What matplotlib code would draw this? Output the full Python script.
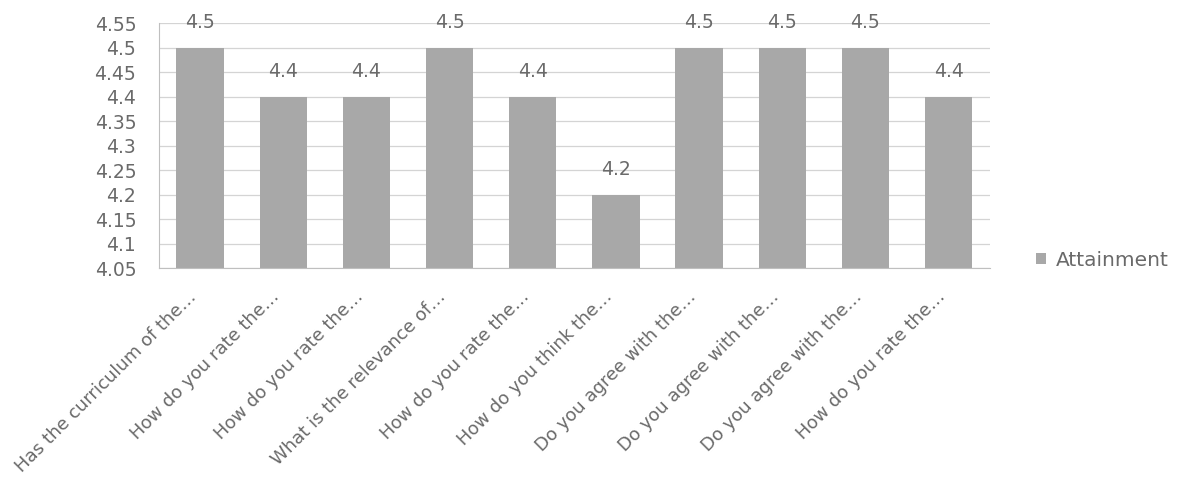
import matplotlib.pyplot as plt

# Attainment per question
questions = ["Has the curriculum of the…", "How do you rate the…", "How do you rate the…",
             "What is the relevance of…", "How do you rate the…", "How do you think the…",
             "Do you agree with the…", "Do you agree with the…", "Do you agree with the…",
             "How do you rate the…"]
attainment = [4.5, 4.4, 4.4, 4.5, 4.4, 4.2, 4.5, 4.5, 4.5, 4.4]
yticks = [4.05, 4.1, 4.15, 4.2, 4.25, 4.3, 4.35, 4.4, 4.45, 4.5, 4.55]

plt.rcParams['font.family'] = ['DejaVu Sans']
cinza = "#6a6a6a"

fig = plt.figure(figsize=(11.83, 4.91), dpi=100)
ax = fig.add_axes([0.134, 0.454, 0.703, 0.499])

pos = list(range(len(questions)))
barras = ax.bar(pos, attainment, width=0.57, color="#a8a8a8", label="Attainment", zorder=2)
ax.bar_label(barras, labels=[str(v) for v in attainment], padding=11, color=cinza, fontsize=13.5)

ax.set_ylim(4.05, 4.55)
ax.set_xlim(-0.5, len(questions) - 0.5)
ax.set_yticks(yticks)
ax.set_yticklabels([f"{v:g}" for v in yticks], color=cinza, fontsize=13.5)
ax.set_xticks(pos)
ax.set_xticklabels(questions, rotation=45, ha="right", va="top",
                   color=cinza, fontsize=13)
ax.tick_params(axis="y", length=0, pad=16)
ax.tick_params(axis="x", length=0, pad=14)
ax.grid(axis="y", color="#d4d4d4", linewidth=0.9, zorder=0)
for lado in ["top", "right"]:
    ax.spines[lado].set_visible(False)
for lado in ["left", "bottom"]:
    ax.spines[lado].set_color("#bfbfbf")

fig.legend(loc="center left", bbox_to_anchor=(0.86, 0.47), frameon=False,
           handlelength=0.5, handleheight=0.5, handletextpad=0.5,
           prop={"size": 14.5}, labelcolor=cinza)

plt.savefig("out.png", dpi=100)
